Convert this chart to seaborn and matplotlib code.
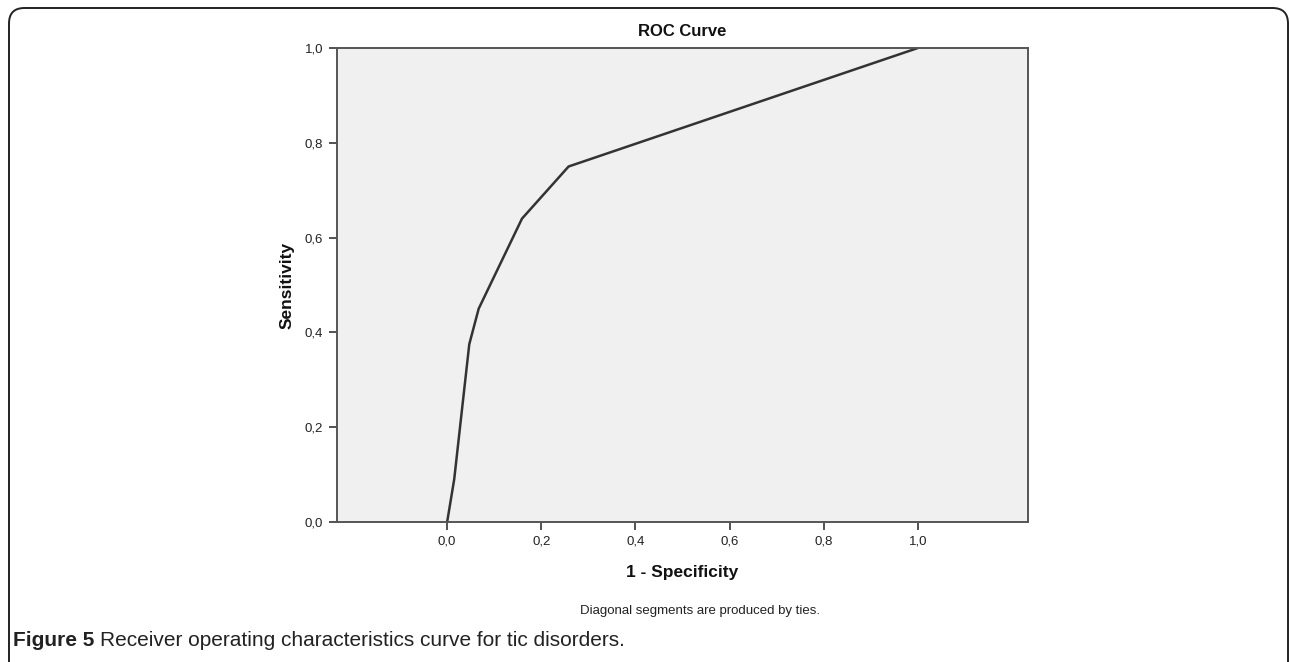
import matplotlib
matplotlib.use("Agg")
import matplotlib.pyplot as plt
import seaborn as sns
import pandas as pd
from matplotlib.patches import FancyBboxPatch

# ROC points
fpr = [0.0, 0.015, 0.047, 0.067, 0.159, 0.258, 1.0]
tpr = [0.0, 0.09, 0.375, 0.45, 0.64, 0.75, 1.0]
ticks = [0.0, 0.2, 0.4, 0.6, 0.8, 1.0]
tick_labels = ["0,0", "0,2", "0,4", "0,6", "0,8", "1,0"]

df = pd.DataFrame({"fpr": fpr, "tpr": tpr})

sns.set_style("white")
plt.rcParams["font.family"] = ["Liberation Sans", "DejaVu Sans"]

W, H = 1290, 662
fig = plt.figure(figsize=(W / 100, H / 100), dpi=100)

# outer rounded frame, bottom runs off the figure
frame = FancyBboxPatch((9 / W, -0.5), (1288 - 9) / W, 1 - 8 / H + 0.5,
                       boxstyle="round,pad=0,rounding_size=0.012",
                       transform=fig.transFigure, fill=False,
                       edgecolor="#222222", linewidth=1.4,
                       mutation_aspect=W / H)
fig.patches.append(frame)

ax = fig.add_axes([337 / W, 1 - 522 / H, (1028 - 337) / W, (522 - 48) / H])
ax.set_facecolor("#f0f0f0")

sns.lineplot(data=df, x="fpr", y="tpr", sort=False, estimator=None,
             color="#333333", linewidth=1.8, ax=ax)

ax.set_xlim(-0.234, 1.234)
ax.set_ylim(0, 1)
ax.set_xticks(ticks)
ax.set_xticklabels(tick_labels)
ax.set_yticks(ticks)
ax.set_yticklabels(tick_labels)
ax.tick_params(axis="both", direction="out", length=6, width=1.3,
               color="#444444", labelsize=9.5, labelcolor="#222222",
               bottom=True, left=True, pad=4)
for s in ax.spines.values():
    s.set_visible(True)
    s.set_color("#555555")
    s.set_linewidth(1.4)

ax.set_xlabel("")
ax.set_ylabel("")
fig.text(682 / W, 1 - 573 / H, "1 - Specificity", ha="center", va="center",
         fontsize=12.5, fontweight="bold", color="#111111")
fig.text(287 / W, 1 - 285 / H, "Sensitivity", ha="center", va="center",
         rotation=90, fontsize=12.5, fontweight="bold", color="#111111")
fig.text(682 / W, 1 - 32 / H, "ROC Curve", ha="center", va="center",
         fontsize=12, fontweight="bold", color="#111111")
fig.text(700 / W, 1 - 611 / H, "Diagonal segments are produced by ties.",
         ha="center", va="center", fontsize=9.5, color="#222222")

# caption: bold lead-in followed by plain text
cap_bold = fig.text(13 / W, 1 - 640 / H, "Figure 5", ha="left", va="center",
                    fontsize=15, fontweight="bold", color="#222222")
fig.canvas.draw()
bb = cap_bold.get_window_extent()
fig.text((bb.x1 + 6) / W, 1 - 640 / H,
         "Receiver operating characteristics curve for tic disorders.",
         ha="left", va="center", fontsize=15, color="#222222")

fig.savefig("out.png", dpi=100)
